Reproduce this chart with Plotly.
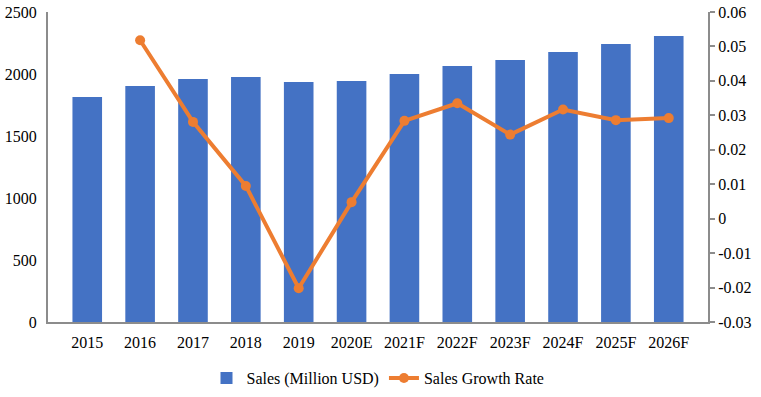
import plotly.graph_objects as go

years = ["2015", "2016", "2017", "2018", "2019", "2020E", "2021F", "2022F",
         "2023F", "2024F", "2025F", "2026F"]
sales = [1815, 1903, 1960, 1976, 1935, 1944, 2000, 2065, 2113, 2177, 2242, 2306]
growth = [None, 0.0518, 0.0281, 0.0095, -0.0202, 0.0048, 0.0284, 0.0335,
          0.0244, 0.0317, 0.0286, 0.0292]
left_ticks = [0, 500, 1000, 1500, 2000, 2500]
right_tickvals = [-0.03, -0.02, -0.01, 0, 0.01, 0.02, 0.03, 0.04, 0.05, 0.06]
right_ticktext = ["-0.03", "-0.02", "-0.01", "0", "0.01", "0.02", "0.03",
                  "0.04", "0.05", "0.06"]

font = dict(family="Liberation Serif, Times New Roman, serif", size=16, color="#000000")
axis_gray = "#8c8c8c"

fig = go.Figure()
fig.add_trace(go.Bar(x=years, y=sales, name="Sales (Million USD)",
                     marker=dict(color="#4472C4", line=dict(width=0))))
fig.add_trace(go.Scatter(x=years, y=growth, name="Sales Growth Rate", yaxis="y2",
                         mode="lines+markers",
                         line=dict(color="#ED7D31", width=4),
                         marker=dict(color="#ED7D31", size=10)))

fig.update_layout(
    width=761, height=397,
    margin=dict(l=48, r=53, t=12, b=75, autoexpand=False),
    paper_bgcolor="white", plot_bgcolor="white",
    font=font,
    bargap=0.44,
    showlegend=True,
    legend=dict(orientation="h", x=0.5, xanchor="center", y=-0.126, yanchor="top",
                font=font, itemwidth=30),
    xaxis=dict(showgrid=False, showline=True, linecolor=axis_gray, linewidth=2,
               ticks="", tickfont=font, fixedrange=True, automargin=False,
               ticklabelstandoff=5),
    yaxis=dict(range=[0, 2500], tickvals=left_ticks, showgrid=False, zeroline=False,
               showline=True, linecolor=axis_gray, linewidth=2, ticks="",
               ticklabelstandoff=6, tickfont=font, automargin=False),
    yaxis2=dict(range=[-0.03, 0.06], tickvals=right_tickvals, ticktext=right_ticktext,
                overlaying="y", side="right", showgrid=False, zeroline=False,
                showline=True, linecolor=axis_gray, linewidth=2, ticks="outside",
                ticklen=5, tickcolor=axis_gray, tickwidth=2, tickfont=font,
                automargin=False),
)

fig.write_html("out.html", config={"displayModeBar": False},
               post_script="document.body.style.margin='0';")
